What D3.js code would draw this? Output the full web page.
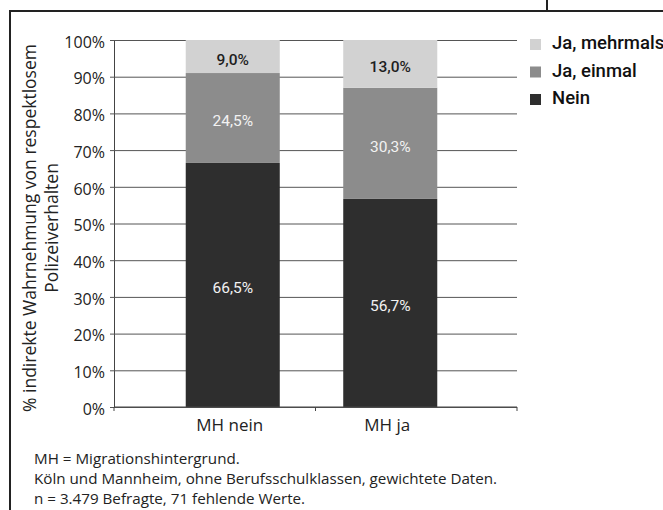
<!DOCTYPE html>
<html>
<head>
<meta charset="utf-8">
<script src="https://cdn.jsdelivr.net/npm/d3@7"></script>
<style>
  body { margin: 0; background: #fff; }
  svg { display: block; font-family: 'Open Sans', Roboto, sans-serif; }
</style>
</head>
<body>
<svg width="663" height="510"></svg>
<script>
var svg = d3.select('svg');

// data
var categories = ['MH nein', 'MH ja'];
var seriesNames = ['Nein', 'Ja, einmal', 'Ja, mehrmals'];
var nein = [66.5, 56.7];
var jaEinmal = [24.5, 30.3];
var jaMehrmals = [9.0, 13.0];
var yTicks = [0, 10, 20, 30, 40, 50, 60, 70, 80, 90, 100];
var notes = [
    'MH = Migrationshintergrund.',
    'Köln und Mannheim, ohne Berufsschulklassen, gewichtete Daten.',
    'n = 3.479 Befragte, 71 fehlende Werte.'
];

var colours = {'Nein': '#2e2e2e', 'Ja, einmal': '#8c8c8c', 'Ja, mehrmals': '#d2d2d2'};
var labelColours = {'Nein': '#f2f2f2', 'Ja, einmal': '#f2f2f2', 'Ja, mehrmals': '#1e1e1e'};

// layout
var plotLeft = 114, plotRight = 517, plotTop = 40, plotBottom = 407;

// frame lines
svg.append('line').attr('x1', 10).attr('x2', 663).attr('y1', 11).attr('y2', 11)
    .attr('stroke', '#222').attr('stroke-width', 2);
svg.append('line').attr('x1', 10).attr('x2', 10).attr('y1', 10).attr('y2', 510)
    .attr('stroke', '#222').attr('stroke-width', 2);
svg.append('line').attr('x1', 547).attr('x2', 547).attr('y1', 0).attr('y2', 11)
    .attr('stroke', '#222').attr('stroke-width', 2);

var y = d3.scaleLinear().domain([0, 100]).range([plotBottom, plotTop]);

// scale for the category slots along the axis
var xAxisScale = d3.scaleBand().domain(categories).range([plotLeft, plotRight]);
// bars sit a little right inside their slots
var x = d3.scaleBand().domain(categories).range([154, 469])
    .paddingInner(0.403).paddingOuter(0.2015);

// y axis with gridlines
var yAxis = d3.axisLeft(y)
    .tickValues(yTicks)
    .tickFormat(function(d) { return d + '%'; })
    .tickSizeInner(-(plotRight - plotLeft))
    .tickSizeOuter(0);

var yAxisG = svg.append('g')
    .attr('transform', 'translate(' + plotLeft + ',0)')
    .call(yAxis);
yAxisG.select('.domain').attr('stroke', '#444');
yAxisG.selectAll('.tick line')
    .attr('x1', -4)
    .attr('stroke', '#555');
yAxisG.selectAll('.tick text')
    .attr('x', -9)
    .attr('dy', '0.45em')
    .style('font-family', "'Open Sans', sans-serif")
    .style('font-size', '16px')
    .style('fill', '#222');

// stacked bars
var rows = categories.map(function(c, i) {
    return {cat: c, 'Nein': nein[i], 'Ja, einmal': jaEinmal[i], 'Ja, mehrmals': jaMehrmals[i]};
});
var stack = d3.stack().keys(seriesNames)(rows);

var layerG = svg.selectAll('.layer')
    .data(stack)
    .enter()
    .append('g')
    .attr('class', 'layer');

layerG.selectAll('rect')
    .data(function(d) { return d.map(function(p) { p.key = d.key; return p; }); })
    .enter()
    .append('rect')
    .attr('x', function(d) { return x(d.data.cat); })
    .attr('width', x.bandwidth())
    .attr('y', function(d) { return y(d[1]); })
    .attr('height', function(d) { return y(d[0]) - y(d[1]); })
    .attr('fill', function(d) { return colours[d.key]; });

layerG.selectAll('text')
    .data(function(d) { return d; })
    .enter()
    .append('text')
    .text(function(d) { return (d[1] - d[0]).toFixed(1).replace('.', ',') + '%'; })
    .attr('x', function(d) { return x(d.data.cat) + x.bandwidth() / 2; })
    .attr('y', function(d) { return (y(d[0]) + y(d[1])) / 2 + 3; })
    .attr('dy', '0.35em')
    .style('text-anchor', 'middle')
    .style('font-family', 'Roboto, sans-serif')
    .style('font-size', '15.5px')
    .style('font-weight', function(d) { return d.key == 'Ja, mehrmals' ? 500 : 400; })
    .style('fill', function(d) { return labelColours[d.key]; });

// x axis
svg.append('line')
    .attr('x1', plotLeft).attr('x2', plotRight)
    .attr('y1', plotBottom).attr('y2', plotBottom)
    .attr('stroke', '#444');
var xTickPos = categories.map(function(c) { return xAxisScale(c); }).concat([plotRight]);
svg.selectAll('.xtick')
    .data(xTickPos)
    .enter()
    .append('line')
    .attr('class', 'xtick')
    .attr('x1', function(d) { return d; })
    .attr('x2', function(d) { return d; })
    .attr('y1', plotBottom)
    .attr('y2', plotBottom + 4)
    .attr('stroke', '#444');
svg.selectAll('.xlabel')
    .data(categories)
    .enter()
    .append('text')
    .attr('class', 'xlabel')
    .text(function(d) { return d; })
    .attr('x', function(d) { return x(d) + x.bandwidth() / 2 - 3; })
    .attr('y', 431)
    .style('text-anchor', 'middle')
    .style('font-size', '17px')
    .style('fill', '#222');

// y axis title
var titleG = svg.append('g')
    .attr('transform', 'translate(36,228) rotate(-90)');
titleG.append('text')
    .text('% indirekte Wahrnehmung von respektlosem')
    .style('text-anchor', 'middle')
    .style('font-size', '17.5px')
    .style('fill', '#222');
titleG.append('text')
    .text('Polizeiverhalten')
    .attr('y', 22)
    .style('text-anchor', 'middle')
    .style('font-size', '17.5px')
    .style('fill', '#222');

// legend
var legendG = svg.selectAll('.legend')
    .data(seriesNames.slice().reverse())
    .enter()
    .append('g')
    .attr('class', 'legend')
    .attr('transform', function(d, i) { return 'translate(530,' + (39 + i * 27.5) + ')'; });
legendG.append('rect')
    .attr('width', 11)
    .attr('height', 11)
    .attr('fill', function(d) { return colours[d]; });
legendG.append('text')
    .text(function(d) { return d; })
    .attr('x', 22)
    .attr('y', 10)
    .style('font-family', 'Roboto, sans-serif')
    .style('font-size', '18.5px')
    .style('font-weight', 500)
    .style('fill', '#111');

// notes below the chart
svg.selectAll('.note')
    .data(notes)
    .enter()
    .append('text')
    .attr('class', 'note')
    .text(function(d) { return d; })
    .attr('x', 34)
    .attr('y', function(d, i) { return 464 + i * 20; })
    .style('font-size', '15.2px')
    .style('fill', '#222');
</script>
</body>
</html>
